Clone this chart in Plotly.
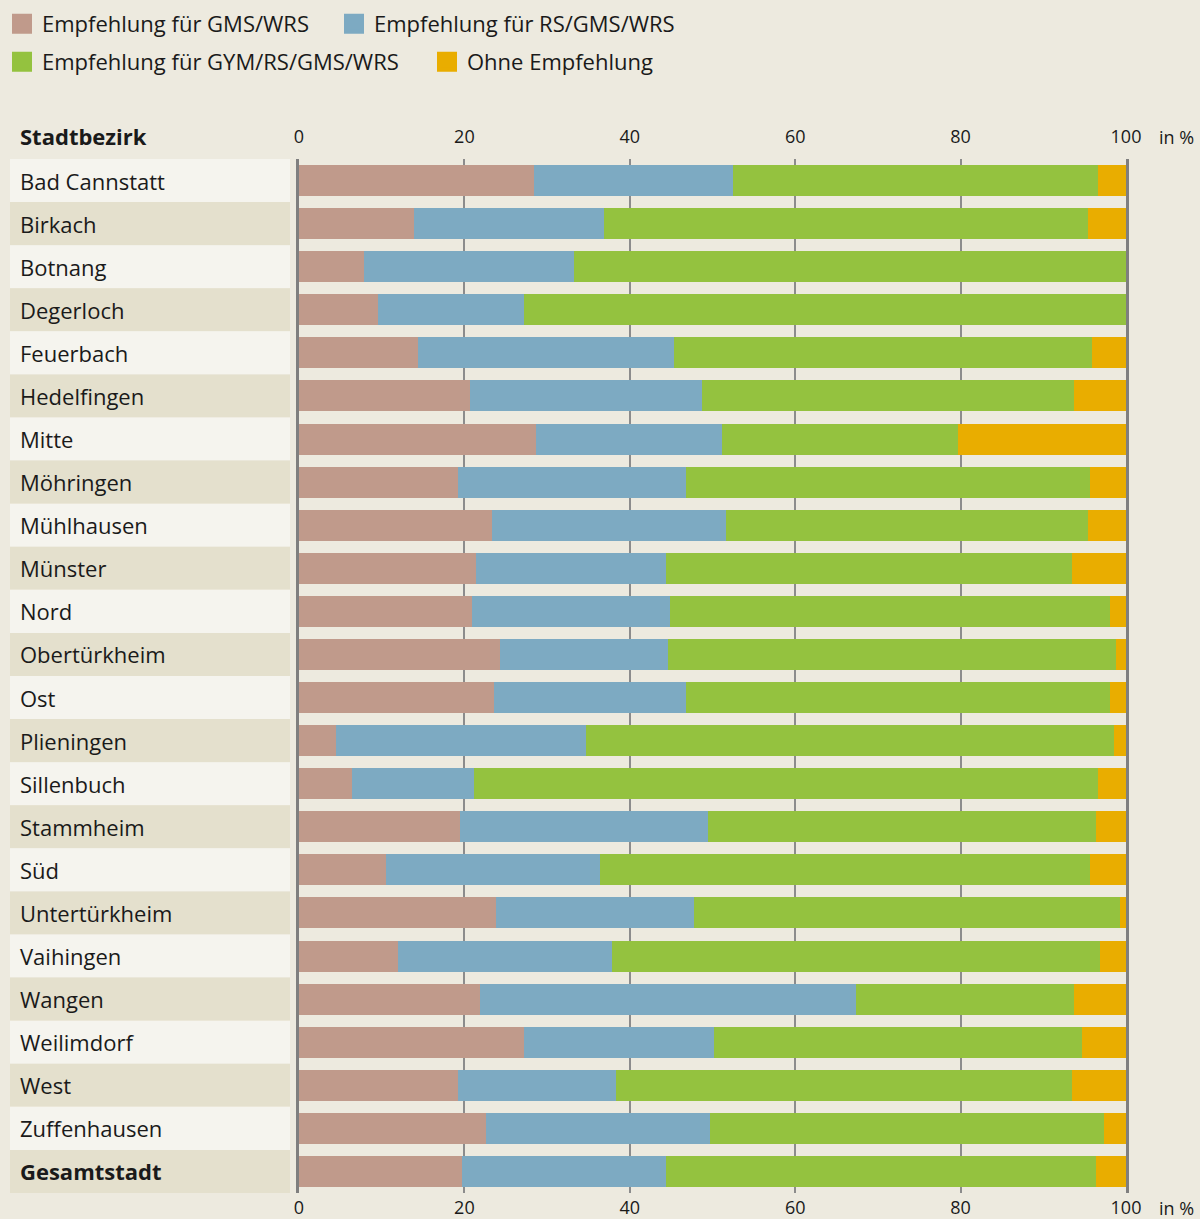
import plotly.graph_objects as go

districts = ["Bad Cannstatt", "Birkach", "Botnang", "Degerloch", "Feuerbach", "Hedelfingen",
             "Mitte", "Möhringen", "Mühlhausen", "Münster", "Nord", "Obertürkheim", "Ost",
             "Plieningen", "Sillenbuch", "Stammheim", "Süd", "Untertürkheim", "Vaihingen",
             "Wangen", "Weilimdorf", "West", "Zuffenhausen", "Gesamtstadt"]

gms_wrs = [28.4, 13.9, 7.9, 9.6, 14.4, 20.7, 28.7, 19.2, 23.3, 21.4, 20.9, 24.3, 23.6,
           4.5, 6.4, 19.5, 10.5, 23.8, 12.0, 21.9, 27.2, 19.2, 22.6, 19.7]
rs_gms_wrs = [24.1, 23.0, 25.4, 17.6, 30.9, 28.0, 22.4, 27.6, 28.3, 23.0, 24.0, 20.3, 23.2,
              30.2, 14.8, 30.0, 25.9, 24.0, 25.8, 45.5, 23.0, 19.1, 27.1, 24.7]
gym_rs_gms_wrs = [44.1, 58.5, 66.7, 72.8, 50.6, 45.0, 28.6, 48.8, 43.8, 49.1, 53.2, 54.2, 51.3,
                  63.8, 75.4, 46.9, 59.2, 51.5, 59.1, 26.3, 44.5, 55.2, 47.6, 52.0]
ohne = [3.4, 4.6, 0.0, 0.0, 4.1, 6.3, 20.3, 4.4, 4.6, 6.5, 1.9, 1.2, 1.9,
        1.5, 3.4, 3.6, 4.4, 0.7, 3.1, 6.3, 5.3, 6.5, 2.7, 3.6]

series_names = ["Empfehlung für GMS/WRS", "Empfehlung für RS/GMS/WRS",
                "Empfehlung für GYM/RS/GMS/WRS", "Ohne Empfehlung"]
series_values = [gms_wrs, rs_gms_wrs, gym_rs_gms_wrs, ohne]
series_colors = ["#C09A8B", "#7DAAC2", "#94C23F", "#E9AD00"]
tick_vals = [0, 20, 40, 60, 80, 100]

FONT = "Open Sans"
W, H = 1200, 1219
L, R, T, B = 299, 74, 159, 26
PW = W - L - R
PH = H - T - B

# legend entry positions (swatch left edge px, row centre px)
legend_pos = [(12, 24), (344, 24), (12, 62), (437, 62)]


def px_to_paper_x(px):
    return (px - L) / PW


def px_to_paper_y(py):
    return 1 - (py - T) / PH


fig = go.Figure()
for name, vals, color in zip(series_names, series_values, series_colors):
    fig.add_trace(go.Bar(
        y=districts, x=vals, name=name, orientation="h",
        marker=dict(color=color, line=dict(width=0)),
        showlegend=False, legendgroup=name, hoverinfo="x+y+name",
    ))

legend_layouts = {}
for k, (name, color) in enumerate(zip(series_names, series_colors)):
    lg = "legend" if k == 0 else f"legend{k + 1}"
    fig.add_trace(go.Scatter(
        x=[None], y=[None], name=name, mode="markers",
        marker=dict(symbol="square", size=16, color=color, line=dict(color=color, width=4)),
        legend=lg, legendgroup=name, showlegend=True,
    ))
    sx, sy = legend_pos[k]
    legend_layouts[lg] = dict(
        orientation="h", x=px_to_paper_x(sx - 10), xanchor="left",
        y=px_to_paper_y(sy), yanchor="middle",
        font=dict(family=FONT, size=22, color="#1a1a1a"),
        bgcolor="rgba(0,0,0,0)", itemclick=False, itemdoubleclick=False,
    )

shapes = []
annotations = []
for i, d in enumerate(districts):
    shapes.append(dict(
        type="rect", xref="paper", yref="y",
        x0=px_to_paper_x(10), x1=px_to_paper_x(290),
        y0=i - 0.5, y1=i + 0.5,
        fillcolor="#E4E0CD" if i % 2 == 1 else "#F5F4EE",
        line=dict(width=0), layer="below",
    ))
    txt = f"<b>{d}</b>" if d == "Gesamtstadt" else d
    annotations.append(dict(
        text=txt, xref="paper", yref="y", x=px_to_paper_x(18), y=i,
        xanchor="left", yanchor="middle", showarrow=False,
        font=dict(family=FONT, size=22, color="#1a1a1a"),
    ))

annotations.append(dict(
    text="<b>Stadtbezirk</b>", xref="paper", yref="paper",
    x=px_to_paper_x(18), y=px_to_paper_y(136), xanchor="left", yanchor="middle",
    showarrow=False, font=dict(family=FONT, size=22, color="#1a1a1a"),
))
for py in (137, 1208):
    annotations.append(dict(
        text="in %", xref="paper", yref="paper",
        x=px_to_paper_x(1157), y=px_to_paper_y(py), xanchor="left", yanchor="middle",
        showarrow=False, font=dict(family=FONT, size=18, color="#1a1a1a"),
    ))

axis_common = dict(
    range=[0, 100], tickvals=tick_vals, ticktext=[str(v) for v in tick_vals],
    ticks="", tickfont=dict(family=FONT, size=18, color="#1a1a1a"),
    fixedrange=True,
)

fig.update_layout(
    width=W, height=H,
    margin=dict(l=L, r=R, t=T, b=B, autoexpand=False),
    paper_bgcolor="#EDEADF", plot_bgcolor="#EDEADF",
    barmode="stack", bargap=0.28,
    xaxis=dict(side="top", showgrid=True, gridcolor="#8C8C8C", gridwidth=1.5,
               zeroline=False, ticklabelstandoff=11, **axis_common),
    xaxis2=dict(side="bottom", overlaying="x", anchor="y", showgrid=False,
                zeroline=False, ticklabelstandoff=2, **axis_common),
    yaxis=dict(categoryorder="array", categoryarray=districts, range=[23.5, -0.5],
               showticklabels=False, showgrid=False, zeroline=False,
               showline=True, mirror=True, linecolor="#7F7F7F", linewidth=3,
               fixedrange=True),
    shapes=shapes, annotations=annotations,
    showlegend=True,
    **legend_layouts,
)
# invisible helper trace so the bottom axis is rendered
fig.add_trace(go.Scatter(x=[0, 100], y=[districts[0], districts[0]], xaxis="x2",
                         mode="markers", marker=dict(opacity=0), showlegend=False,
                         hoverinfo="skip"))

fig.write_html("out.html", config={"displayModeBar": False},
               post_script="document.body.style.margin='0';")
